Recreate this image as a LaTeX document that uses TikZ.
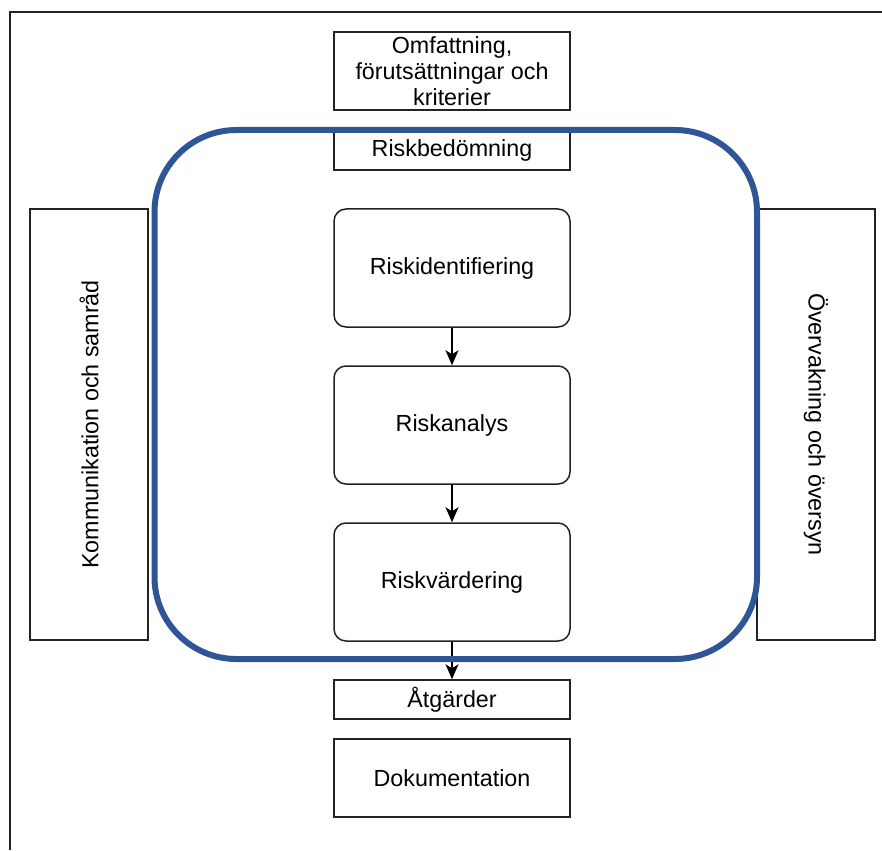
\documentclass[tikz,border=0pt]{standalone}
\usepackage{fontspec}
\setmainfont{Liberation Sans}
\usetikzlibrary{arrows.meta}
\definecolor{ringblue}{HTML}{2F5597}
\definecolor{edge}{HTML}{222222}
\begin{document}
\begin{tikzpicture}[x=1pt,y=-1pt,
  box/.style={draw=edge, line width=1.5pt, fill=white, minimum width=236pt, inner sep=0pt, align=center,
    font=\fontsize{23.3}{25.8}\selectfont},
  rbox/.style={box, rounded corners=12pt, minimum height=118pt},
  flow/.style={draw=black, line width=1.3pt, -{Stealth[length=15pt,width=13pt,inset=4pt]}},
  side/.style={draw=edge, line width=1.5pt, minimum width=118pt, minimum height=431pt, inner sep=0pt},
  sidetext/.style={font=\fontsize{23.3}{25.8}\selectfont}]
\useasboundingbox (0,0) rectangle (882,850);
\draw[draw=edge, line width=2pt] (10,850) -- (10,12) -- (882,12);
% top boxes
\node[box, minimum height=78pt] (omf) at (452,71) {Omfattning,\\förutsättningar och\\kriterier};
\node[box, minimum height=40pt] (rb) at (452,150) {Riskbedömning};
% side boxes
\node[side] (kom) at (89,424.5) {};
\node[rotate=90, sidetext] at (kom.center) {Kommunikation och samråd};
\node[side] (ovr) at (816,424.5) {};
\node[rotate=-90, sidetext] at (ovr.center) {Övervakning och översyn};
% process
\node[rbox] (ri) at (452,268) {Riskidentifiering};
\node[rbox] (ra) at (452,425) {Riskanalys};
\node[rbox] (rv) at (452,582) {Riskvärdering};
\node[box, minimum height=39pt] (atg) at (452,699.5) {Åtgärder};
\node[box, minimum height=78pt] (dok) at (452,778) {Dokumentation};
\draw[flow] (ri) -- (ra);
\draw[flow] (ra) -- (rv);
\draw[flow] (rv) -- (atg);
% blue ring
\draw[ringblue, line width=6pt, rounded corners=82pt] (154.5,130) rectangle (757,659);
\end{tikzpicture}
\end{document}
